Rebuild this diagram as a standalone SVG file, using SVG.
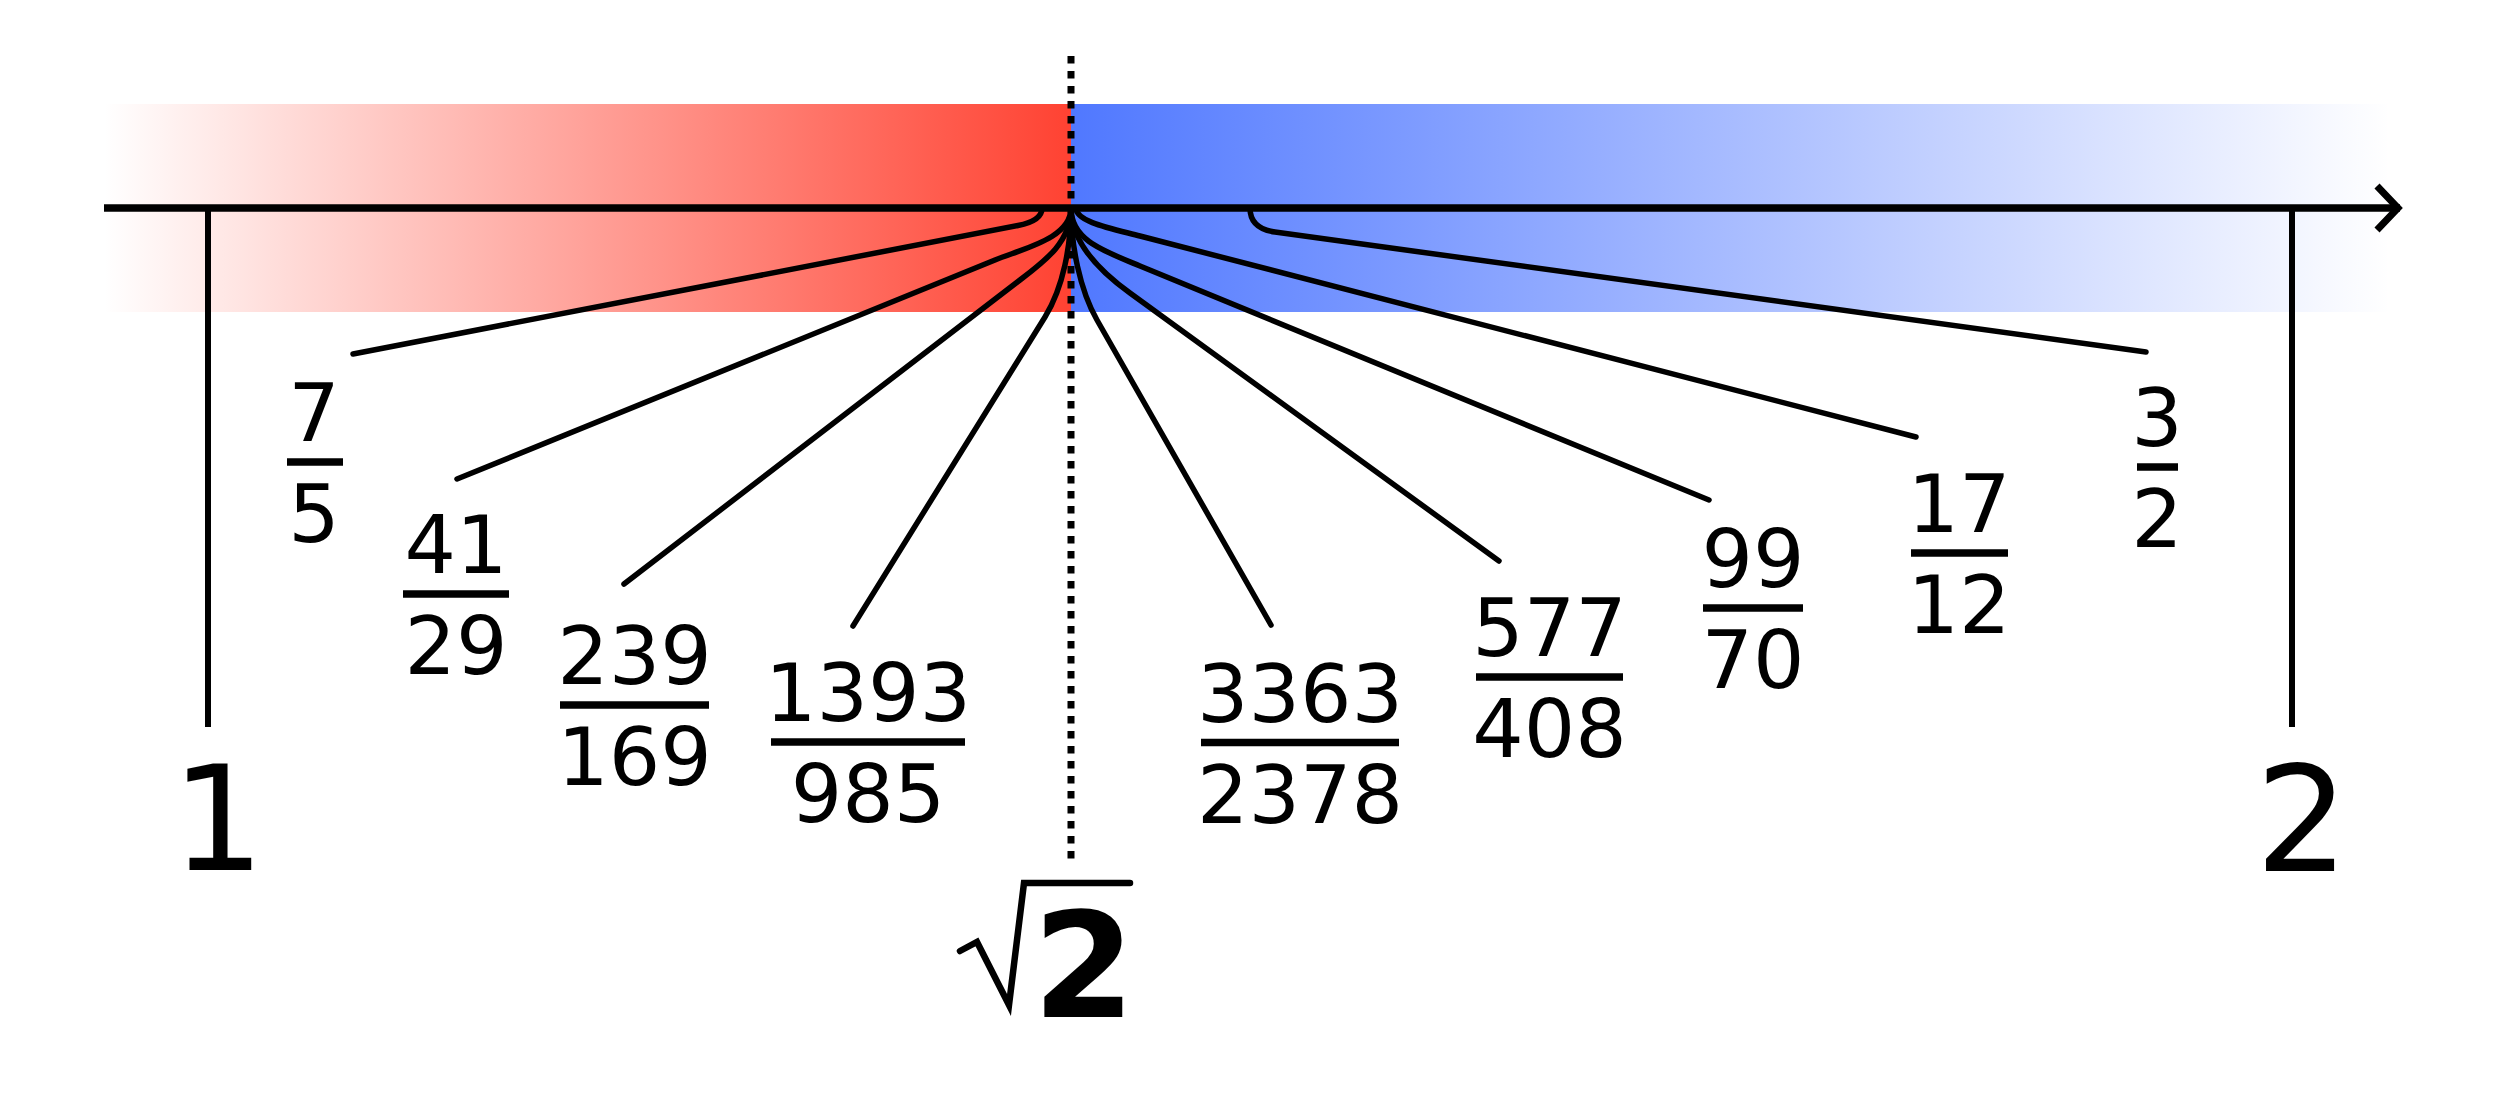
<svg xmlns="http://www.w3.org/2000/svg" width="2500" height="1104" viewBox="0 0 2500 1104">
<style>
  .num { font-family: "DejaVu Sans", "Liberation Sans", sans-serif; font-size: 81px; text-anchor: middle; fill: #000; }
  .big { font-family: "DejaVu Sans", "Liberation Sans", sans-serif; font-size: 147px; text-anchor: middle; fill: #000; }
  .bold { font-weight: bold; }
  .bar { stroke: #000; stroke-width: 7.5; fill: none; }
  .conn { stroke: #000; stroke-width: 5.5; fill: none; stroke-linecap: round; stroke-linejoin: round; }
  .tick { stroke: #000; stroke-width: 6; fill: none; }
</style>
<defs>
  <linearGradient id="gRed" gradientUnits="userSpaceOnUse" x1="104" y1="0" x2="1071" y2="0">
    <stop offset="0" stop-color="#ff4232" stop-opacity="0"/>
    <stop offset="1" stop-color="#ff4232" stop-opacity="1"/>
  </linearGradient>
  <linearGradient id="gBlue" gradientUnits="userSpaceOnUse" x1="1071" y1="0" x2="2390" y2="0">
    <stop offset="0" stop-color="#5078ff" stop-opacity="1"/>
    <stop offset="1" stop-color="#5078ff" stop-opacity="0"/>
  </linearGradient>
</defs>
<rect width="2500" height="1104" fill="#fff"/>
<g id="bands">
  <rect x="104" y="104" width="967" height="208" fill="url(#gRed)"/>
  <rect x="1071" y="104" width="1319" height="208" fill="url(#gBlue)"/>
</g>
<g id="sqrt2-line">
  <line x1="1071" y1="56" x2="1071" y2="859" stroke="#000" stroke-width="7" stroke-dasharray="7.5 7.5"/>
</g>
<g id="axis">
  <line x1="104" y1="208" x2="2400" y2="208" stroke="#000" stroke-width="7.5"/>
  <polyline points="2377,186 2398,208 2377,230" stroke="#000" stroke-width="7" fill="none" stroke-linejoin="miter"/>
  <line class="tick" x1="208" y1="208" x2="208" y2="727"/>
  <line class="tick" x1="2292" y1="208" x2="2292" y2="727"/>
</g>
<g id="connectors">
  <path class="conn" d="M353,354 L1018,225.5 C1031,223 1042,218 1042,208"/>
  <path class="conn" d="M457,479 L995,260 C1025,248 1071,238 1071,208"/>
  <path class="conn" d="M624,584 L1020,280 C1045,261 1071,242 1071,208"/>
  <path class="conn" d="M853,626 L1045,317 C1063.5,287 1071,245 1071,208"/>
  <path class="conn" d="M1271,625 L1097,320 C1079.7,289.6 1071,245 1071,208"/>
  <path class="conn" d="M1499,561 L1130,293 C1098,270 1071,242 1071,208"/>
  <path class="conn" d="M1709,500 L1140,266 C1103,250.7 1071,240 1071,208"/>
  <path class="conn" d="M1916,437 L1140,236 C1111,228.5 1076,222 1076,208"/>
  <path class="conn" d="M2146,352 L1275,232 C1262,230.2 1250,224 1250,208"/>
</g>
<g id="label-1"><text class="big" x="218" y="870">1</text></g>
<g id="label-2"><text class="big" x="2302" y="871">2</text></g>
<g id="label-sqrt2">
  <polyline points="960,951 977,942 1009,1005 1024,883 1130,883" stroke="#000" stroke-width="6.5" fill="none" stroke-linecap="round" stroke-linejoin="miter"/>
  <text class="big bold" x="1084" y="1017">2</text>
</g>
<g id="frac-7-5">
  <text class="num" x="314" y="441">7</text>
  <line class="bar" x1="287" y1="462" x2="343" y2="462"/>
  <text class="num" x="314" y="542">5</text>
</g>
<g id="frac-41-29">
  <text class="num" x="456" y="573">41</text>
  <line class="bar" x1="403" y1="594" x2="509" y2="594"/>
  <text class="num" x="456" y="674">29</text>
</g>
<g id="frac-239-169">
  <text class="num" x="634.5" y="684">239</text>
  <line class="bar" x1="560" y1="705" x2="709" y2="705"/>
  <text class="num" x="634.5" y="785">169</text>
</g>
<g id="frac-1393-985">
  <text class="num" x="868" y="721">1393</text>
  <line class="bar" x1="771" y1="742" x2="965" y2="742"/>
  <text class="num" x="868" y="822">985</text>
</g>
<g id="frac-3363-2378">
  <text class="num" x="1300" y="721.5">3363</text>
  <line class="bar" x1="1201" y1="742.5" x2="1399" y2="742.5"/>
  <text class="num" x="1300" y="822.5">2378</text>
</g>
<g id="frac-577-408">
  <text class="num" x="1549.5" y="656">577</text>
  <line class="bar" x1="1476" y1="677" x2="1623" y2="677"/>
  <text class="num" x="1549.5" y="757">408</text>
</g>
<g id="frac-99-70">
  <text class="num" x="1753" y="587">99</text>
  <line class="bar" x1="1703" y1="608" x2="1803" y2="608"/>
  <text class="num" x="1753" y="688">70</text>
</g>
<g id="frac-17-12">
  <text class="num" x="1959" y="532">17</text>
  <line class="bar" x1="1911" y1="553" x2="2008" y2="553"/>
  <text class="num" x="1959" y="633">12</text>
</g>
<g id="frac-3-2">
  <text class="num" x="2157" y="446">3</text>
  <line class="bar" x1="2137" y1="467" x2="2178" y2="467"/>
  <text class="num" x="2157" y="547">2</text>
</g>
</svg>
